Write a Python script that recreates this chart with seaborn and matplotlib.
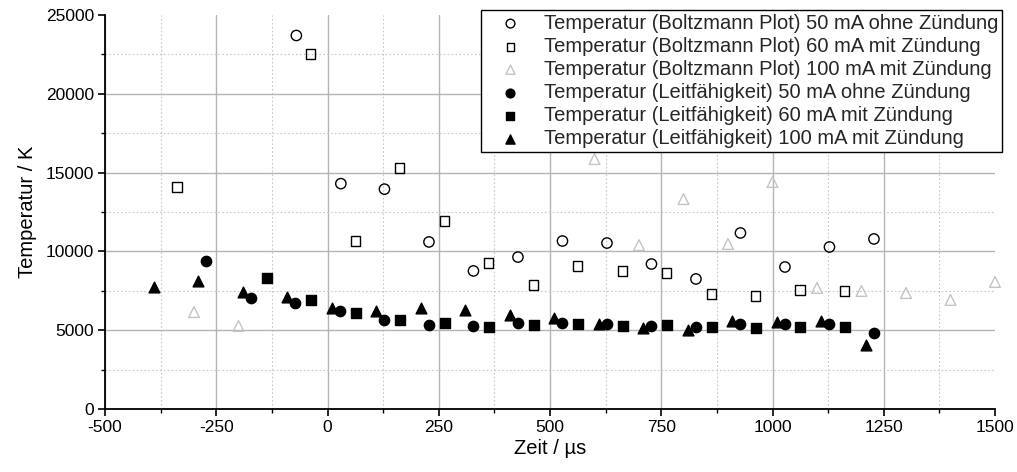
import matplotlib
matplotlib.use("Agg")
import matplotlib.pyplot as plt
import seaborn as sns
import pandas as pd
from matplotlib.ticker import MultipleLocator

sns.set_theme(style="white")
plt.rcParams['font.family'] = ['Liberation Sans', 'DejaVu Sans']
plt.rcParams['axes.unicode_minus'] = False

# --- data ---
bp50_x = [-70, 30, 128, 228, 328, 428, 528, 628, 728, 828, 928, 1028, 1128, 1228]
bp50_y = [23700, 14300, 13950, 10600, 8760, 9640, 10660, 10530, 9200, 8250, 11170, 9010, 10280, 10790]

bp60_x = [-338, -38, 63, 162, 263, 362, 463, 562, 663, 762, 863, 962, 1062, 1162]
bp60_y = [14090, 22530, 10660, 15290, 11930, 9260, 7870, 9070, 8760, 8630, 7300, 7170, 7550, 7490]

bp100_x = [-300, -200, 600, 700, 800, 900, 1000, 1100, 1200, 1300, 1400, 1500]
bp100_y = [6150, 5270, 15860, 10400, 13320, 10470, 14400, 7680, 7490, 7360, 6920, 8060]

lf50_x = [-272, -172, -72, 28, 128, 228, 328, 428, 528, 628, 728, 828, 928, 1028, 1128, 1228]
lf50_y = [9390, 7040, 6730, 6220, 5650, 5330, 5270, 5460, 5460, 5390, 5270, 5200, 5390, 5390, 5390, 4820]

lf60_x = [-137, -38, 63, 162, 263, 362, 463, 562, 663, 762, 863, 962, 1062, 1162]
lf60_y = [8310, 6920, 6090, 5650, 5460, 5200, 5330, 5390, 5270, 5330, 5200, 5140, 5200, 5200]

lf100_x = [-390, -290, -190, -90, 10, 110, 210, 310, 410, 510, 610, 710, 810, 910, 1010, 1110, 1210]
lf100_y = [7740, 8120, 7420, 7110, 6410, 6220, 6410, 6280, 5960, 5770, 5390, 5140, 5010, 5580, 5520, 5580, 4060]

labels = [
    "Temperatur (Boltzmann Plot) 50 mA ohne Zündung",
    "Temperatur (Boltzmann Plot) 60 mA mit Zündung",
    "Temperatur (Boltzmann Plot) 100 mA mit Zündung",
    "Temperatur (Leitfähigkeit) 50 mA ohne Zündung",
    "Temperatur (Leitfähigkeit) 60 mA mit Zündung",
    "Temperatur (Leitfähigkeit) 100 mA mit Zündung",
]

series = [
    (bp50_x, bp50_y, "o", "none", "black", 55),
    (bp60_x, bp60_y, "s", "none", "black", 45),
    (bp100_x, bp100_y, "^", "none", "#c4c4c4", 60),
    (lf50_x, lf50_y, "o", "black", "black", 55),
    (lf60_x, lf60_y, "s", "black", "black", 45),
    (lf100_x, lf100_y, "^", "black", "black", 60),
]

fig = plt.figure(figsize=(10.17, 4.72), dpi=100)
ax = fig.add_axes([105/1017, 1-409/472, 890/1017, 394/472])

for (xs, ys, m, fc, ec, s), lab in zip(series, labels):
    df = pd.DataFrame({"x": xs, "y": ys})
    sns.scatterplot(data=df, x="x", y="y", marker=m, s=s, facecolor=fc,
                    edgecolor=ec, linewidth=1.0, ax=ax, label=lab,
                    clip_on=False, zorder=3)

ax.set_xlim(-500, 1500)
ax.set_ylim(0, 25000)
ax.xaxis.set_major_locator(MultipleLocator(250))
ax.xaxis.set_minor_locator(MultipleLocator(125))
ax.yaxis.set_major_locator(MultipleLocator(5000))
ax.yaxis.set_minor_locator(MultipleLocator(2500))

ax.grid(which="major", color="#b4b4b4", linewidth=1.0, linestyle="-")
ax.grid(which="minor", color="#c8c8c8", linewidth=0.8, linestyle=(0, (1.5, 2)))
ax.set_axisbelow(True)

for sp in ["top", "right"]:
    ax.spines[sp].set_visible(False)
for sp in ["left", "bottom"]:
    ax.spines[sp].set_color("black")
    ax.spines[sp].set_linewidth(1.3)

ax.tick_params(which="major", direction="out", length=5, width=1.2, color="black",
               labelsize=12.5, labelcolor="black", left=True, bottom=True, pad=3)
ax.tick_params(which="minor", direction="out", length=3, width=1.0, color="black",
               left=True, bottom=True)

ax.set_xlabel("Zeit / µs", fontsize=14.5, color="black", labelpad=3)
ax.set_ylabel("Temperatur / K", fontsize=14.5, color="black", labelpad=6)

leg = ax.legend(loc="upper right", bbox_to_anchor=(1.008, 1.013), fontsize=14.5,
                frameon=True, fancybox=False, edgecolor="black", framealpha=1,
                borderpad=0.2, labelspacing=0.2, handletextpad=0.4,
                handlelength=2.5, borderaxespad=0, markerscale=0.85)
leg.get_frame().set_linewidth(1.0)
leg.set_zorder(5)

# no grid lines along the outer (top/right) edges
fig.canvas.draw()
for t in ax.yaxis.get_major_ticks():
    if abs(t.get_loc() - 25000) < 1:
        t.gridline.set_visible(False)
for t in ax.xaxis.get_major_ticks():
    if abs(t.get_loc() - 1500) < 1:
        t.gridline.set_visible(False)

fig.savefig("out.png", dpi=100)
